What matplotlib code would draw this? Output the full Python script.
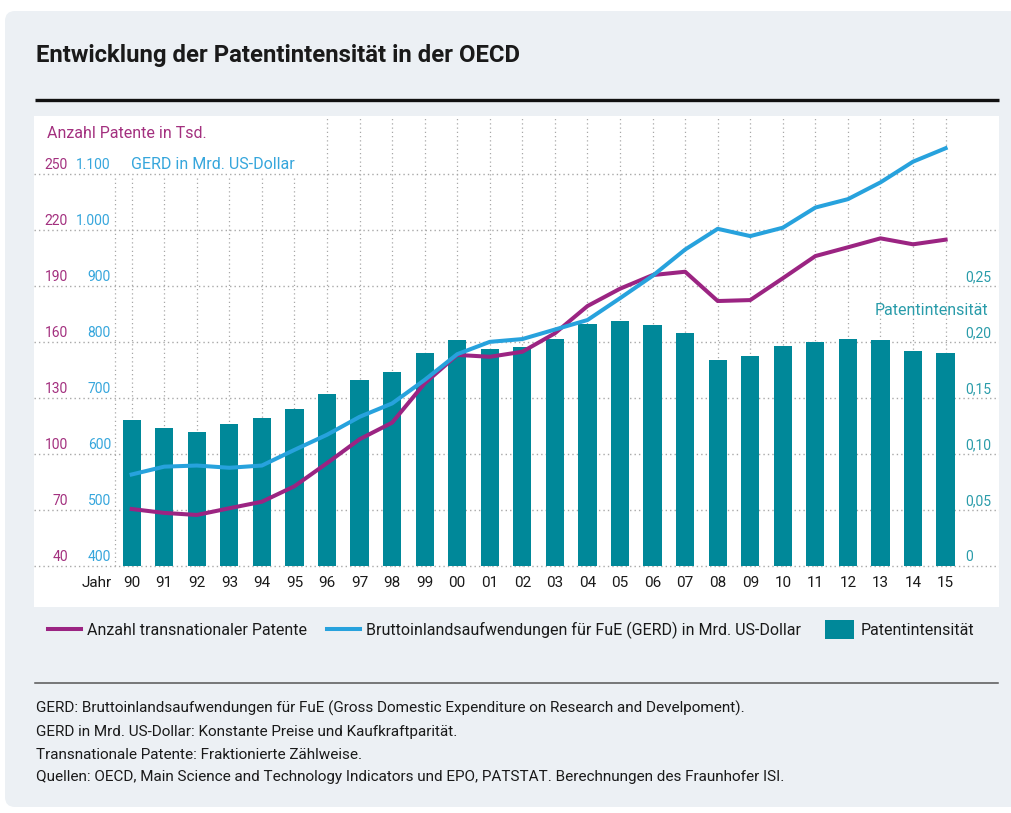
import matplotlib
matplotlib.use("Agg")
import matplotlib.pyplot as plt
from matplotlib import transforms
from matplotlib.container import BarContainer
from matplotlib.legend_handler import HandlerPatch, update_from_first_child
from matplotlib.lines import Line2D
from matplotlib.patches import FancyBboxPatch, Rectangle

plt.rcParams['font.family'] = ['Roboto', 'DejaVu Sans']

# data
years = list(range(1990, 2016))
patents = [70.4, 68.3, 67.2, 70.8, 74.3, 82.6, 95.0, 107.8, 116.7, 137.8,
           153.0, 152.0, 154.7, 164.6, 179.2, 188.5, 195.8, 197.6, 181.9, 182.4,
           194.1, 206.0, 210.7, 215.5, 212.3, 214.8]
gerd = [563, 577, 579, 575, 579, 607, 634, 666, 690, 732,
        778, 800, 805, 822, 839, 878, 918, 965, 1002, 989,
        1004, 1040, 1055, 1085, 1122, 1146]
intensity = [0.130, 0.123, 0.1195, 0.1266, 0.132, 0.140, 0.1534, 0.166, 0.173, 0.190,
             0.2015, 0.1936, 0.1954, 0.203, 0.216, 0.2186, 0.2151, 0.2079, 0.1838, 0.1874,
             0.1963, 0.200, 0.2025, 0.2016, 0.1921, 0.190]

patent_ticks = [40, 70, 100, 130, 160, 190, 220, 250]
gerd_ticks = [400, 500, 600, 700, 800, 900, 1000, 1100]
intensity_ticks = [0, 0.05, 0.10, 0.15, 0.20, 0.25]

title = "Entwicklung der Patentintensität in der OECD"
legend_labels = ["Anzahl transnationaler Patente",
                 "Bruttoinlandsaufwendungen für FuE (GERD) in Mrd. US-Dollar",
                 "Patentintensität"]
notes = [
    "GERD: Bruttoinlandsaufwendungen für FuE (Gross Domestic Expenditure on Research and Develpoment).",
    "GERD in Mrd. US-Dollar: Konstante Preise und Kaufkraftparität.",
    "Transnationale Patente: Fraktionierte Zählweise.",
    "Quellen: OECD, Main Science and Technology Indicators und EPO, PATSTAT. Berechnungen des Fraunhofer ISI.",
]

CARD = '#ECF0F4'
PURPLE = '#9B2482'
PURPLE_TXT = '#A3307F'
BLUE = '#27A2DD'
BLUE_TXT = '#36A6DC'
TEAL = '#008899'
TEAL_TXT = '#2A9CAA'
GRID = '#A8A8A8'
DARK = '#1A1A1A'

W, H = 1012, 813
fig = plt.figure(figsize=(W / 100, H / 100), dpi=100)


def fx(x):
    return x / W


def fy(y):
    return 1 - y / H


# card background
card = FancyBboxPatch((0.05, (H - 807) / 100), (W + 20 - 5) / 100, (807 - 11) / 100,
                      boxstyle="round,pad=0,rounding_size=0.1",
                      transform=fig.dpi_scale_trans, facecolor=CARD,
                      edgecolor='none', zorder=-1)
fig.add_artist(card)

fig.text(fx(36), fy(61.7), title, fontsize=17.2, fontweight='bold',
         color=DARK, ha='left', va='baseline')
fig.add_artist(Line2D([fx(35), fx(999)], [fy(100), fy(100)], color='#111111',
                      lw=2.4, solid_capstyle='butt'))

# axes = white plot area
ax = fig.add_axes([fx(34), fy(607), (999 - 34) / W, (607 - 116) / H])
ax.set_facecolor('white')
ax.set_xlim(1990 - 3.0, 1990 + 26.64)
ax.set_ylim(326.2, 1203.6)

ax_bar = ax.twinx()
ax_bar.set_ylim(-0.0369, 0.4018)
ax_pat = ax.twinx()
ax_pat.set_ylim(17.86, 281.09)
ax_gerd = ax.twinx()
ax_gerd.set_ylim(ax.get_ylim())

for a in (ax, ax_bar, ax_pat, ax_gerd):
    a.set_xticks([])
    a.set_yticks([])
    for s in a.spines.values():
        s.set_visible(False)

# grid
top = ax.get_ylim()[1]
ax.vlines([years[0] - 0.5] + years, gerd_ticks[0], top, colors=GRID,
          linestyles=(0, (1, 2.4)), lw=0.9, zorder=1)
ax.add_patch(Rectangle((ax.get_xlim()[0], 1096.4), 1995.48 - ax.get_xlim()[0],
                       top - 1096.4, facecolor='white', edgecolor='none', zorder=1.5))
for g in gerd_ticks:
    ax.axhline(g, color=GRID, lw=1.0, ls=(0, (1, 2.2)), zorder=2)

bars = ax_bar.bar(years, intensity, width=0.56, color=TEAL, zorder=2)
l_pat, = ax_pat.plot(years, patents, color=PURPLE, lw=2.9)
l_gerd, = ax_gerd.plot(years, gerd, color=BLUE, lw=2.9)


def ytrans(axis, dy):
    base = transforms.blended_transform_factory(fig.transFigure, axis.transData)
    return transforms.offset_copy(base, fig=fig, x=0, y=dy, units='dots')


for v in patent_ticks:
    fig.text(fx(68), v, str(v), transform=ytrans(ax_pat, 4.5), fontsize=10,
             color=PURPLE_TXT, ha='right', va='baseline')
for v in gerd_ticks:
    fig.text(fx(111), v, f"{v:,}".replace(',', '.'), transform=ytrans(ax, 4.5),
             fontsize=10, color=BLUE_TXT, ha='right', va='baseline')
for v in intensity_ticks:
    lab = '0' if v == 0 else f"{v:.2f}".replace('.', ',')
    fig.text(fx(965), v, lab, transform=ytrans(ax_bar, 4.5), fontsize=10,
             color=TEAL_TXT, ha='left', va='baseline')

fig.text(fx(47), fy(138), "Anzahl Patente in Tsd.", fontsize=11.5,
         color=PURPLE_TXT, ha='left', va='baseline')
fig.text(fx(131), gerd_ticks[-1], "GERD in Mrd. US-Dollar", transform=ytrans(ax, 4.5),
         fontsize=11.5, color=BLUE_TXT, ha='left', va='baseline')
fig.text(fx(988), fy(315), "Patentintensität", fontsize=11.5, color=TEAL_TXT,
         ha='right', va='baseline')

# year labels
xt = transforms.blended_transform_factory(ax.transData, fig.transFigure)
for y in years:
    fig.text(y, fy(583), f"{y % 100:02d}", transform=xt, fontsize=11,
             color=DARK, ha='center', va='center')
fig.text(fx(112), fy(583), "Jahr", fontsize=11, color=DARK, ha='right', va='center')


# legend
def square(legend, orig_handle, xdescent, ydescent, width, height, fontsize):
    w, h = 20.9, 13.7
    return Rectangle((-xdescent + width - w, -ydescent + (height - h) / 2), w, h)


fig.legend([l_pat, l_gerd, bars], legend_labels, loc='center left',
           bbox_to_anchor=(fx(48), fy(630)), ncol=3, frameon=False, fontsize=11.5,
           handlelength=2.05, handletextpad=0.4, columnspacing=1.25,
           borderpad=0, borderaxespad=0, labelcolor=DARK,
           handler_map={BarContainer: HandlerPatch(patch_func=square,
                                                   update_func=update_from_first_child)})

fig.add_artist(Line2D([fx(35), fx(998)], [fy(683), fy(683)], color='#555555', lw=1.1))
for i, line in enumerate(notes):
    fig.text(fx(36), fy(713 + 22.8 * i), line, fontsize=10.95, color=DARK,
             ha='left', va='baseline')

fig.savefig('out.png', dpi=100, facecolor='white')
